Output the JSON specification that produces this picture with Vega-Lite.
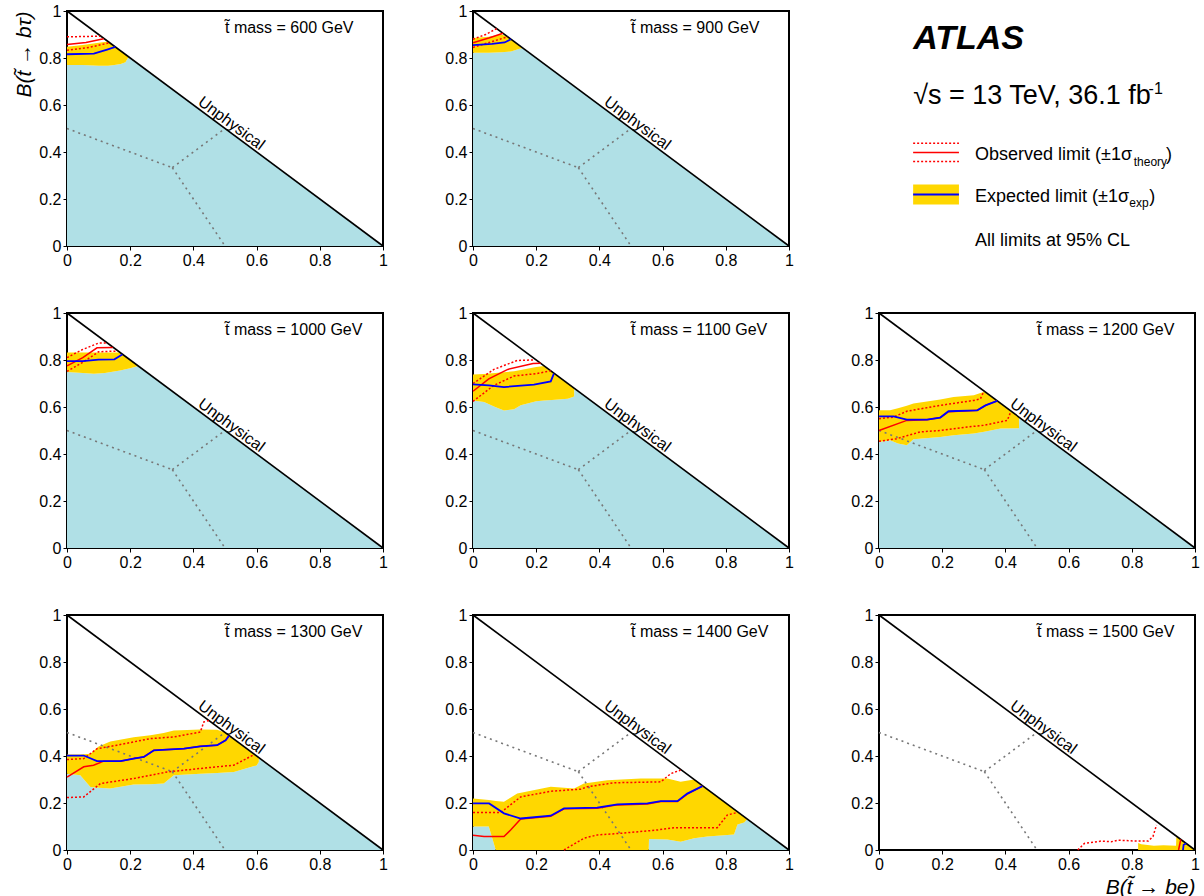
{
  "$schema": "https://vega.github.io/schema/vega-lite/v6.json",
  "padding": {"left": 12, "top": 2, "right": 4, "bottom": 4},
  "config": {
    "font": "Liberation Sans",
    "view": {"stroke": "black", "strokeWidth": 2},
    "axis": {"labelFontSize": 16, "labelColor": "black", "domain": false, "ticks": true, "tickColor": "black", "tickSize": 4, "labelPadding": 2, "grid": false, "labelFlush": false, "labelOverlap": false, "titleFontStyle": "italic", "titleFontWeight": "normal", "titleFontSize": 21, "titleColor": "black", "titleAnchor": "end", "titlePadding": 4},
    "text": {"fontSize": 16}
  },
  "datasets": {
    "geom": [
      {"k": "diag", "x": 0, "y": 1, "x2": 1, "y2": 0},
      {"k": "p", "x": 0, "y": 0.5, "x2": 0.3333, "y2": 0.3333},
      {"k": "p", "x": 0.3333, "y": 0.3333, "x2": 0.5, "y2": 0.5},
      {"k": "p", "x": 0.3333, "y": 0.3333, "x2": 0.5, "y2": 0}
    ],
    "d": [
      {"m":600,"s":"excl","x":0,"y":0.77},{"m":600,"s":"excl","x":0.05,"y":0.77},{"m":600,"s":"excl","x":0.1,"y":0.767},{"m":600,"s":"excl","x":0.13,"y":0.767},{"m":600,"s":"excl","x":0.15,"y":0.77},{"m":600,"s":"excl","x":0.17,"y":0.774},{"m":600,"s":"excl","x":0.185,"y":0.782},{"m":600,"s":"excl","x":0.195,"y":0.805},{"m":600,"s":"excl","x":1,"y":0},
      {"m":600,"s":"band","x":0,"y":0.77,"y2":0.848},{"m":600,"s":"band","x":0.05,"y":0.77,"y2":0.855},{"m":600,"s":"band","x":0.1,"y":0.767,"y2":0.865},{"m":600,"s":"band","x":0.13,"y":0.767,"y2":0.87},{"m":600,"s":"band","x":0.15,"y":0.77,"y2":0.85},{"m":600,"s":"band","x":0.17,"y":0.774,"y2":0.83},{"m":600,"s":"band","x":0.185,"y":0.782,"y2":0.815},{"m":600,"s":"band","x":0.195,"y":0.805,"y2":0.805},
      {"m":600,"s":"exp","x":0,"y":0.816},{"m":600,"s":"exp","x":0.085,"y":0.819},{"m":600,"s":"exp","x":0.127,"y":0.836},{"m":600,"s":"exp","x":0.153,"y":0.847},
      {"m":600,"s":"obs","x":0,"y":0.857},{"m":600,"s":"obs","x":0.06,"y":0.866},{"m":600,"s":"obs","x":0.116,"y":0.882},
      {"m":600,"s":"obsUp","x":0,"y":0.89},{"m":600,"s":"obsUp","x":0.105,"y":0.893},
      {"m":600,"s":"obsDn","x":0,"y":0.833},{"m":600,"s":"obsDn","x":0.07,"y":0.845},{"m":600,"s":"obsDn","x":0.135,"y":0.865},

      {"m":900,"s":"excl","x":0,"y":0.822},{"m":900,"s":"excl","x":0.05,"y":0.822},{"m":900,"s":"excl","x":0.09,"y":0.825},{"m":900,"s":"excl","x":0.12,"y":0.828},{"m":900,"s":"excl","x":0.15,"y":0.84},{"m":900,"s":"excl","x":0.158,"y":0.842},{"m":900,"s":"excl","x":1,"y":0},
      {"m":900,"s":"band","x":0,"y":0.822,"y2":0.885},{"m":900,"s":"band","x":0.05,"y":0.822,"y2":0.89},{"m":900,"s":"band","x":0.09,"y":0.825,"y2":0.9},{"m":900,"s":"band","x":0.11,"y":0.827,"y2":0.89},{"m":900,"s":"band","x":0.12,"y":0.828,"y2":0.88},{"m":900,"s":"band","x":0.15,"y":0.84,"y2":0.85},{"m":900,"s":"band","x":0.158,"y":0.842,"y2":0.842},
      {"m":900,"s":"exp","x":0,"y":0.855},{"m":900,"s":"exp","x":0.06,"y":0.86},{"m":900,"s":"exp","x":0.1,"y":0.866},{"m":900,"s":"exp","x":0.12,"y":0.88},
      {"m":900,"s":"obs","x":0,"y":0.865},{"m":900,"s":"obs","x":0.05,"y":0.885},{"m":900,"s":"obs","x":0.095,"y":0.905},
      {"m":900,"s":"obsUp","x":0,"y":0.88},{"m":900,"s":"obsUp","x":0.04,"y":0.9},{"m":900,"s":"obsUp","x":0.075,"y":0.925},
      {"m":900,"s":"obsDn","x":0,"y":0.845},{"m":900,"s":"obsDn","x":0.06,"y":0.87},{"m":900,"s":"obsDn","x":0.11,"y":0.89},

      {"m":1000,"s":"excl","x":0,"y":0.749},{"m":1000,"s":"excl","x":0.05,"y":0.745},{"m":1000,"s":"excl","x":0.085,"y":0.742},{"m":1000,"s":"excl","x":0.12,"y":0.745},{"m":1000,"s":"excl","x":0.168,"y":0.755},{"m":1000,"s":"excl","x":0.2,"y":0.765},{"m":1000,"s":"excl","x":0.225,"y":0.775},{"m":1000,"s":"excl","x":1,"y":0},
      {"m":1000,"s":"band","x":0,"y":0.749,"y2":0.832},{"m":1000,"s":"band","x":0.05,"y":0.745,"y2":0.832},{"m":1000,"s":"band","x":0.085,"y":0.742,"y2":0.832},{"m":1000,"s":"band","x":0.12,"y":0.745,"y2":0.832},{"m":1000,"s":"band","x":0.168,"y":0.755,"y2":0.832},{"m":1000,"s":"band","x":0.2,"y":0.765,"y2":0.8},{"m":1000,"s":"band","x":0.225,"y":0.775,"y2":0.775},
      {"m":1000,"s":"exp","x":0,"y":0.795},{"m":1000,"s":"exp","x":0.05,"y":0.795},{"m":1000,"s":"exp","x":0.1,"y":0.802},{"m":1000,"s":"exp","x":0.15,"y":0.803},{"m":1000,"s":"exp","x":0.175,"y":0.823},
      {"m":1000,"s":"obs","x":0,"y":0.775},{"m":1000,"s":"obs","x":0.05,"y":0.81},{"m":1000,"s":"obs","x":0.095,"y":0.852},{"m":1000,"s":"obs","x":0.145,"y":0.853},
      {"m":1000,"s":"obsUp","x":0,"y":0.81},{"m":1000,"s":"obsUp","x":0.05,"y":0.845},{"m":1000,"s":"obsUp","x":0.1,"y":0.872},{"m":1000,"s":"obsUp","x":0.128,"y":0.872},
      {"m":1000,"s":"obsDn","x":0,"y":0.752},{"m":1000,"s":"obsDn","x":0.05,"y":0.79},{"m":1000,"s":"obsDn","x":0.1,"y":0.835},{"m":1000,"s":"obsDn","x":0.16,"y":0.838},

      {"m":1100,"s":"excl","x":0,"y":0.628},{"m":1100,"s":"excl","x":0.035,"y":0.621},{"m":1100,"s":"excl","x":0.07,"y":0.6},{"m":1100,"s":"excl","x":0.098,"y":0.585},{"m":1100,"s":"excl","x":0.13,"y":0.59},{"m":1100,"s":"excl","x":0.151,"y":0.607},{"m":1100,"s":"excl","x":0.2,"y":0.625},{"m":1100,"s":"excl","x":0.225,"y":0.628},{"m":1100,"s":"excl","x":0.25,"y":0.63},{"m":1100,"s":"excl","x":0.3,"y":0.635},{"m":1100,"s":"excl","x":0.32,"y":0.645},{"m":1100,"s":"excl","x":0.321,"y":0.679},{"m":1100,"s":"excl","x":1,"y":0},
      {"m":1100,"s":"band","x":0,"y":0.628,"y2":0.738},{"m":1100,"s":"band","x":0.035,"y":0.621,"y2":0.74},{"m":1100,"s":"band","x":0.07,"y":0.6,"y2":0.745},{"m":1100,"s":"band","x":0.098,"y":0.585,"y2":0.748},{"m":1100,"s":"band","x":0.13,"y":0.59,"y2":0.752},{"m":1100,"s":"band","x":0.151,"y":0.607,"y2":0.757},{"m":1100,"s":"band","x":0.2,"y":0.625,"y2":0.77},{"m":1100,"s":"band","x":0.225,"y":0.628,"y2":0.775},{"m":1100,"s":"band","x":0.25,"y":0.63,"y2":0.75},{"m":1100,"s":"band","x":0.3,"y":0.635,"y2":0.7},{"m":1100,"s":"band","x":0.32,"y":0.645,"y2":0.68},
      {"m":1100,"s":"exp","x":0,"y":0.696},{"m":1100,"s":"exp","x":0.05,"y":0.692},{"m":1100,"s":"exp","x":0.098,"y":0.685},{"m":1100,"s":"exp","x":0.193,"y":0.695},{"m":1100,"s":"exp","x":0.246,"y":0.709},{"m":1100,"s":"exp","x":0.256,"y":0.742},
      {"m":1100,"s":"obs","x":0,"y":0.667},{"m":1100,"s":"obs","x":0.05,"y":0.72},{"m":1100,"s":"obs","x":0.11,"y":0.76},{"m":1100,"s":"obs","x":0.19,"y":0.785},{"m":1100,"s":"obs","x":0.214,"y":0.786},
      {"m":1100,"s":"obsUp","x":0,"y":0.7},{"m":1100,"s":"obsUp","x":0.066,"y":0.76},{"m":1100,"s":"obsUp","x":0.14,"y":0.798},{"m":1100,"s":"obsUp","x":0.19,"y":0.8},
      {"m":1100,"s":"obsDn","x":0,"y":0.624},{"m":1100,"s":"obsDn","x":0.066,"y":0.692},{"m":1100,"s":"obsDn","x":0.13,"y":0.732},{"m":1100,"s":"obsDn","x":0.2,"y":0.742},{"m":1100,"s":"obsDn","x":0.246,"y":0.754},

      {"m":1200,"s":"excl","x":0,"y":0.451},{"m":1200,"s":"excl","x":0.035,"y":0.458},{"m":1200,"s":"excl","x":0.06,"y":0.445},{"m":1200,"s":"excl","x":0.088,"y":0.437},{"m":1200,"s":"excl","x":0.109,"y":0.463},{"m":1200,"s":"excl","x":0.194,"y":0.472},{"m":1200,"s":"excl","x":0.236,"y":0.48},{"m":1200,"s":"excl","x":0.3,"y":0.487},{"m":1200,"s":"excl","x":0.333,"y":0.495},{"m":1200,"s":"excl","x":0.385,"y":0.508},{"m":1200,"s":"excl","x":0.443,"y":0.51},{"m":1200,"s":"excl","x":0.444,"y":0.556},{"m":1200,"s":"excl","x":1,"y":0},
      {"m":1200,"s":"band","x":0,"y":0.451,"y2":0.586},{"m":1200,"s":"band","x":0.035,"y":0.458,"y2":0.586},{"m":1200,"s":"band","x":0.06,"y":0.445,"y2":0.595},{"m":1200,"s":"band","x":0.088,"y":0.437,"y2":0.605},{"m":1200,"s":"band","x":0.109,"y":0.463,"y2":0.615},{"m":1200,"s":"band","x":0.194,"y":0.472,"y2":0.632},{"m":1200,"s":"band","x":0.236,"y":0.48,"y2":0.643},{"m":1200,"s":"band","x":0.3,"y":0.487,"y2":0.65},{"m":1200,"s":"band","x":0.333,"y":0.495,"y2":0.665},{"m":1200,"s":"band","x":0.385,"y":0.508,"y2":0.615},{"m":1200,"s":"band","x":0.443,"y":0.51,"y2":0.557},
      {"m":1200,"s":"exp","x":0,"y":0.56},{"m":1200,"s":"exp","x":0.046,"y":0.56},{"m":1200,"s":"exp","x":0.088,"y":0.546},{"m":1200,"s":"exp","x":0.152,"y":0.546},{"m":1200,"s":"exp","x":0.194,"y":0.555},{"m":1200,"s":"exp","x":0.22,"y":0.582},{"m":1200,"s":"exp","x":0.311,"y":0.586},{"m":1200,"s":"exp","x":0.337,"y":0.607},{"m":1200,"s":"exp","x":0.374,"y":0.626},
      {"m":1200,"s":"obs","x":0,"y":0.5},{"m":1200,"s":"obs","x":0.088,"y":0.543},{"m":1200,"s":"obs","x":0.152,"y":0.546},{"m":1200,"s":"obs","x":0.194,"y":0.555},{"m":1200,"s":"obs","x":0.22,"y":0.58},{"m":1200,"s":"obs","x":0.311,"y":0.586},{"m":1200,"s":"obs","x":0.337,"y":0.607},{"m":1200,"s":"obs","x":0.374,"y":0.626},
      {"m":1200,"s":"obsUp","x":0,"y":0.55},{"m":1200,"s":"obsUp","x":0.046,"y":0.557},{"m":1200,"s":"obsUp","x":0.088,"y":0.582},{"m":1200,"s":"obsUp","x":0.194,"y":0.607},{"m":1200,"s":"obsUp","x":0.3,"y":0.628},{"m":1200,"s":"obsUp","x":0.321,"y":0.635},{"m":1200,"s":"obsUp","x":0.332,"y":0.667},
      {"m":1200,"s":"obsDn","x":0,"y":0.454},{"m":1200,"s":"obsDn","x":0.056,"y":0.465},{"m":1200,"s":"obsDn","x":0.13,"y":0.494},{"m":1200,"s":"obsDn","x":0.194,"y":0.5},{"m":1200,"s":"obsDn","x":0.279,"y":0.515},{"m":1200,"s":"obsDn","x":0.332,"y":0.522},{"m":1200,"s":"obsDn","x":0.406,"y":0.543},{"m":1200,"s":"obsDn","x":0.417,"y":0.58},

      {"m":1300,"s":"excl","x":0,"y":0.325},{"m":1300,"s":"excl","x":0.042,"y":0.318},{"m":1300,"s":"excl","x":0.074,"y":0.268},{"m":1300,"s":"excl","x":0.1,"y":0.265},{"m":1300,"s":"excl","x":0.137,"y":0.262},{"m":1300,"s":"excl","x":0.211,"y":0.279},{"m":1300,"s":"excl","x":0.264,"y":0.28},{"m":1300,"s":"excl","x":0.306,"y":0.283},{"m":1300,"s":"excl","x":0.338,"y":0.318},{"m":1300,"s":"excl","x":0.422,"y":0.325},{"m":1300,"s":"excl","x":0.475,"y":0.328},{"m":1300,"s":"excl","x":0.5,"y":0.33},{"m":1300,"s":"excl","x":0.528,"y":0.332},{"m":1300,"s":"excl","x":0.6,"y":0.36},{"m":1300,"s":"excl","x":0.607,"y":0.375},{"m":1300,"s":"excl","x":0.608,"y":0.392},{"m":1300,"s":"excl","x":1,"y":0},
      {"m":1300,"s":"band","x":0,"y":0.325,"y2":0.406},{"m":1300,"s":"band","x":0.042,"y":0.318,"y2":0.406},{"m":1300,"s":"band","x":0.074,"y":0.268,"y2":0.41},{"m":1300,"s":"band","x":0.1,"y":0.265,"y2":0.44},{"m":1300,"s":"band","x":0.137,"y":0.262,"y2":0.462},{"m":1300,"s":"band","x":0.211,"y":0.279,"y2":0.48},{"m":1300,"s":"band","x":0.264,"y":0.28,"y2":0.488},{"m":1300,"s":"band","x":0.306,"y":0.283,"y2":0.498},{"m":1300,"s":"band","x":0.338,"y":0.318,"y2":0.509},{"m":1300,"s":"band","x":0.422,"y":0.325,"y2":0.513},{"m":1300,"s":"band","x":0.475,"y":0.328,"y2":0.512},{"m":1300,"s":"band","x":0.5,"y":0.33,"y2":0.5},{"m":1300,"s":"band","x":0.528,"y":0.332,"y2":0.472},{"m":1300,"s":"band","x":0.6,"y":0.36,"y2":0.4},{"m":1300,"s":"band","x":0.607,"y":0.375,"y2":0.393},
      {"m":1300,"s":"exp","x":0,"y":0.402},{"m":1300,"s":"exp","x":0.053,"y":0.402},{"m":1300,"s":"exp","x":0.095,"y":0.378},{"m":1300,"s":"exp","x":0.169,"y":0.378},{"m":1300,"s":"exp","x":0.211,"y":0.389},{"m":1300,"s":"exp","x":0.243,"y":0.396},{"m":1300,"s":"exp","x":0.275,"y":0.424},{"m":1300,"s":"exp","x":0.37,"y":0.431},{"m":1300,"s":"exp","x":0.422,"y":0.441},{"m":1300,"s":"exp","x":0.475,"y":0.446},{"m":1300,"s":"exp","x":0.502,"y":0.467},{"m":1300,"s":"exp","x":0.512,"y":0.485},
      {"m":1300,"s":"obs","x":0,"y":0.31},{"m":1300,"s":"obs","x":0.053,"y":0.354},{"m":1300,"s":"obs","x":0.084,"y":0.361},{"m":1300,"s":"obs","x":0.116,"y":0.378},{"m":1300,"s":"obs","x":0.169,"y":0.378},{"m":1300,"s":"obs","x":0.211,"y":0.389},{"m":1300,"s":"obs","x":0.243,"y":0.396},{"m":1300,"s":"obs","x":0.275,"y":0.424},{"m":1300,"s":"obs","x":0.37,"y":0.431},{"m":1300,"s":"obs","x":0.422,"y":0.441},{"m":1300,"s":"obs","x":0.475,"y":0.446},{"m":1300,"s":"obs","x":0.502,"y":0.467},{"m":1300,"s":"obs","x":0.512,"y":0.485},
      {"m":1300,"s":"obsUp","x":0,"y":0.385},{"m":1300,"s":"obsUp","x":0.053,"y":0.389},{"m":1300,"s":"obsUp","x":0.095,"y":0.431},{"m":1300,"s":"obsUp","x":0.158,"y":0.446},{"m":1300,"s":"obsUp","x":0.264,"y":0.474},{"m":1300,"s":"obsUp","x":0.338,"y":0.481},{"m":1300,"s":"obsUp","x":0.422,"y":0.502},{"m":1300,"s":"obsUp","x":0.433,"y":0.545},{"m":1300,"s":"obsUp","x":0.449,"y":0.551},
      {"m":1300,"s":"obsDn","x":0,"y":0.223},{"m":1300,"s":"obsDn","x":0.053,"y":0.226},{"m":1300,"s":"obsDn","x":0.106,"y":0.283},{"m":1300,"s":"obsDn","x":0.211,"y":0.304},{"m":1300,"s":"obsDn","x":0.317,"y":0.332},{"m":1300,"s":"obsDn","x":0.422,"y":0.347},{"m":1300,"s":"obsDn","x":0.528,"y":0.361},{"m":1300,"s":"obsDn","x":0.591,"y":0.405},

      {"m":1400,"s":"excl","x":0,"y":0.1},{"m":1400,"s":"excl","x":0.05,"y":0.1},{"m":1400,"s":"excl","x":0.072,"y":0},{"m":1400,"s":"excl","x":0.556,"y":0},{"m":1400,"s":"excl","x":0.557,"y":0.047},{"m":1400,"s":"excl","x":0.615,"y":0.045},{"m":1400,"s":"excl","x":0.657,"y":0.035},{"m":1400,"s":"excl","x":0.7,"y":0.05},{"m":1400,"s":"excl","x":0.742,"y":0.057},{"m":1400,"s":"excl","x":0.826,"y":0.066},{"m":1400,"s":"excl","x":0.837,"y":0.109},{"m":1400,"s":"excl","x":0.858,"y":0.117},{"m":1400,"s":"excl","x":0.868,"y":0.132},{"m":1400,"s":"excl","x":1,"y":0},
      {"m":1400,"s":"band","x":0,"y":0.1,"y2":0.219},{"m":1400,"s":"band","x":0.05,"y":0.1,"y2":0.213},{"m":1400,"s":"band","x":0.072,"y":0,"y2":0.208},{"m":1400,"s":"band","x":0.098,"y":0,"y2":0.205},{"m":1400,"s":"band","x":0.14,"y":0,"y2":0.24},{"m":1400,"s":"band","x":0.246,"y":0,"y2":0.269},{"m":1400,"s":"band","x":0.32,"y":0,"y2":0.262},{"m":1400,"s":"band","x":0.351,"y":0,"y2":0.283},{"m":1400,"s":"band","x":0.425,"y":0,"y2":0.297},{"m":1400,"s":"band","x":0.531,"y":0,"y2":0.304},{"m":1400,"s":"band","x":0.556,"y":0,"y2":0.304},{"m":1400,"s":"band","x":0.557,"y":0.047,"y2":0.304},{"m":1400,"s":"band","x":0.615,"y":0.045,"y2":0.304},{"m":1400,"s":"band","x":0.657,"y":0.035,"y2":0.29},{"m":1400,"s":"band","x":0.7,"y":0.05,"y2":0.3},{"m":1400,"s":"band","x":0.742,"y":0.057,"y2":0.258},{"m":1400,"s":"band","x":0.826,"y":0.066,"y2":0.174},{"m":1400,"s":"band","x":0.837,"y":0.109,"y2":0.163},{"m":1400,"s":"band","x":0.858,"y":0.117,"y2":0.142},{"m":1400,"s":"band","x":0.868,"y":0.132,"y2":0.132},
      {"m":1400,"s":"exp","x":0,"y":0.198},{"m":1400,"s":"exp","x":0.051,"y":0.198},{"m":1400,"s":"exp","x":0.098,"y":0.156},{"m":1400,"s":"exp","x":0.151,"y":0.134},{"m":1400,"s":"exp","x":0.246,"y":0.146},{"m":1400,"s":"exp","x":0.288,"y":0.177},{"m":1400,"s":"exp","x":0.393,"y":0.18},{"m":1400,"s":"exp","x":0.457,"y":0.194},{"m":1400,"s":"exp","x":0.552,"y":0.198},{"m":1400,"s":"exp","x":0.594,"y":0.208},{"m":1400,"s":"exp","x":0.647,"y":0.208},{"m":1400,"s":"exp","x":0.678,"y":0.24},{"m":1400,"s":"exp","x":0.726,"y":0.272},
      {"m":1400,"s":"obs","x":0,"y":0.063},{"m":1400,"s":"obs","x":0.035,"y":0.057},{"m":1400,"s":"obs","x":0.098,"y":0.057},{"m":1400,"s":"obs","x":0.119,"y":0.085},{"m":1400,"s":"obs","x":0.151,"y":0.132},{"m":1400,"s":"obs","x":0.246,"y":0.144},{"m":1400,"s":"obs","x":0.288,"y":0.175},{"m":1400,"s":"obs","x":0.393,"y":0.178},{"m":1400,"s":"obs","x":0.457,"y":0.192},{"m":1400,"s":"obs","x":0.552,"y":0.196},{"m":1400,"s":"obs","x":0.594,"y":0.206},{"m":1400,"s":"obs","x":0.647,"y":0.206},{"m":1400,"s":"obs","x":0.678,"y":0.238},{"m":1400,"s":"obs","x":0.726,"y":0.272},
      {"m":1400,"s":"obsUp","x":0,"y":0.16},{"m":1400,"s":"obsUp","x":0.088,"y":0.16},{"m":1400,"s":"obsUp","x":0.151,"y":0.226},{"m":1400,"s":"obsUp","x":0.246,"y":0.25},{"m":1400,"s":"obsUp","x":0.341,"y":0.259},{"m":1400,"s":"obsUp","x":0.362,"y":0.269},{"m":1400,"s":"obsUp","x":0.446,"y":0.286},{"m":1400,"s":"obsUp","x":0.594,"y":0.29},{"m":1400,"s":"obsUp","x":0.626,"y":0.325},{"m":1400,"s":"obsUp","x":0.657,"y":0.34},
      {"m":1400,"s":"obsDn","x":0.288,"y":0},{"m":1400,"s":"obsDn","x":0.351,"y":0.05},{"m":1400,"s":"obsDn","x":0.393,"y":0.064},{"m":1400,"s":"obsDn","x":0.467,"y":0.071},{"m":1400,"s":"obsDn","x":0.583,"y":0.085},{"m":1400,"s":"obsDn","x":0.636,"y":0.095},{"m":1400,"s":"obsDn","x":0.773,"y":0.095},{"m":1400,"s":"obsDn","x":0.805,"y":0.149},{"m":1400,"s":"obsDn","x":0.837,"y":0.16},

      {"m":1500,"s":"band","x":0.82,"y":0,"y2":0.03},{"m":1500,"s":"band","x":0.83,"y":0,"y2":0.025},{"m":1500,"s":"band","x":0.87,"y":0,"y2":0.018},{"m":1500,"s":"band","x":0.9,"y":0,"y2":0.02},{"m":1500,"s":"band","x":0.94,"y":0,"y2":0.018},{"m":1500,"s":"band","x":0.941,"y":0,"y2":0.055},{"m":1500,"s":"band","x":0.95,"y":0,"y2":0.05},{"m":1500,"s":"band","x":0.99,"y":0,"y2":0.01},{"m":1500,"s":"band","x":1,"y":0,"y2":0},
      {"m":1500,"s":"exp","x":0.962,"y":0},{"m":1500,"s":"exp","x":0.964,"y":0.022},{"m":1500,"s":"exp","x":0.972,"y":0.028},
      {"m":1500,"s":"obs","x":0.948,"y":0},{"m":1500,"s":"obs","x":0.955,"y":0.045},
      {"m":1500,"s":"obsUp","x":0.629,"y":0},{"m":1500,"s":"obsUp","x":0.65,"y":0.028},{"m":1500,"s":"obsUp","x":0.703,"y":0.038},{"m":1500,"s":"obsUp","x":0.735,"y":0.035},{"m":1500,"s":"obsUp","x":0.756,"y":0.042},{"m":1500,"s":"obsUp","x":0.809,"y":0.038},{"m":1500,"s":"obsUp","x":0.852,"y":0.038},{"m":1500,"s":"obsUp","x":0.867,"y":0.057},{"m":1500,"s":"obsUp","x":0.878,"y":0.106}
    ]
  },
  "columns": 3,
  "spacing": {"row": 67, "column": 90},
  "bounds": "flush",
  "concat": [
    {"width": 316, "height": 235,
     "layer": [
      {"data": {"name": "d"}, "transform": [{"filter": "datum.m == 600 && datum.s == 'excl'"}], "mark": {"type": "area", "color": "#b0e0e6"}, "encoding": {"x": {"field": "x", "type": "quantitative", "scale": {"domain": [0, 1], "nice": false}, "axis": {"values": [0, 0.2, 0.4, 0.6, 0.8, 1], "format": ".1~f"}, "title": null}, "y": {"field": "y", "type": "quantitative", "scale": {"domain": [0, 1], "nice": false}, "axis": {"values": [0, 0.2, 0.4, 0.6, 0.8, 1], "format": ".1~f"}, "title": "B(t\u0303 \u2192 b\u03c4)"}, "y2": {"datum": 0}}},
      {"data": {"name": "d"}, "transform": [{"filter": "datum.m == 600 && datum.s == 'band'"}], "mark": {"type": "area", "color": "#ffd700"}, "encoding": {"x": {"field": "x", "type": "quantitative", "title": null}, "y": {"field": "y", "type": "quantitative", "title": "B(t\u0303 \u2192 b\u03c4)"}, "y2": {"field": "y2"}}},
      {"data": {"name": "geom"}, "transform": [{"filter": "datum.k == 'p'"}], "mark": {"type": "rule", "color": "#777777", "strokeDash": [2, 4], "strokeWidth": 1.6}, "encoding": {"x": {"field": "x", "type": "quantitative", "title": null}, "y": {"field": "y", "type": "quantitative", "title": "B(t\u0303 \u2192 b\u03c4)"}, "x2": {"field": "x2"}, "y2": {"field": "y2"}}},
      {"data": {"name": "geom"}, "transform": [{"filter": "datum.k == 'diag'"}], "mark": {"type": "rule", "color": "black", "strokeWidth": 1.6}, "encoding": {"x": {"field": "x", "type": "quantitative", "title": null}, "y": {"field": "y", "type": "quantitative", "title": "B(t\u0303 \u2192 b\u03c4)"}, "x2": {"field": "x2"}, "y2": {"field": "y2"}}},
      {"data": {"name": "d"}, "transform": [{"filter": "datum.m == 600 && (datum.s == 'obsUp' || datum.s == 'obsDn')"}], "mark": {"type": "line", "color": "#ff0000", "strokeDash": [2, 2], "strokeWidth": 1.5}, "encoding": {"x": {"field": "x", "type": "quantitative", "title": null}, "y": {"field": "y", "type": "quantitative", "title": "B(t\u0303 \u2192 b\u03c4)"}, "detail": {"field": "s"}}},
      {"data": {"name": "d"}, "transform": [{"filter": "datum.m == 600 && datum.s == 'obs'"}], "mark": {"type": "line", "color": "#ff0000", "strokeWidth": 1.5}, "encoding": {"x": {"field": "x", "type": "quantitative", "title": null}, "y": {"field": "y", "type": "quantitative", "title": "B(t\u0303 \u2192 b\u03c4)"}}},
      {"data": {"name": "d"}, "transform": [{"filter": "datum.m == 600 && datum.s == 'exp'"}], "mark": {"type": "line", "color": "#0000ff", "strokeWidth": 1.8}, "encoding": {"x": {"field": "x", "type": "quantitative", "title": null}, "y": {"field": "y", "type": "quantitative", "title": "B(t\u0303 \u2192 b\u03c4)"}}},
      {"data": {"values": [{"t": "t\u0303 mass = 600 GeV"}]}, "mark": {"type": "text", "align": "left", "baseline": "alphabetic"}, "encoding": {"x": {"datum": 0.5, "type": "quantitative"}, "y": {"datum": 0.905, "type": "quantitative"}, "text": {"field": "t"}}},
      {"data": {"values": [{"t": "Unphysical"}]}, "mark": {"type": "text", "align": "center", "baseline": "middle", "angle": 36.6}, "encoding": {"x": {"datum": 0.52, "type": "quantitative"}, "y": {"datum": 0.522, "type": "quantitative"}, "text": {"field": "t"}}}
     ]},
    {"width": 316, "height": 235,
     "layer": [
      {"data": {"name": "d"}, "transform": [{"filter": "datum.m == 900 && datum.s == 'excl'"}], "mark": {"type": "area", "color": "#b0e0e6"}, "encoding": {"x": {"field": "x", "type": "quantitative", "scale": {"domain": [0, 1], "nice": false}, "axis": {"values": [0, 0.2, 0.4, 0.6, 0.8, 1], "format": ".1~f"}, "title": null}, "y": {"field": "y", "type": "quantitative", "scale": {"domain": [0, 1], "nice": false}, "axis": {"values": [0, 0.2, 0.4, 0.6, 0.8, 1], "format": ".1~f"}, "title": null}, "y2": {"datum": 0}}},
      {"data": {"name": "d"}, "transform": [{"filter": "datum.m == 900 && datum.s == 'band'"}], "mark": {"type": "area", "color": "#ffd700"}, "encoding": {"x": {"field": "x", "type": "quantitative", "title": null}, "y": {"field": "y", "type": "quantitative", "title": null}, "y2": {"field": "y2"}}},
      {"data": {"name": "geom"}, "transform": [{"filter": "datum.k == 'p'"}], "mark": {"type": "rule", "color": "#777777", "strokeDash": [2, 4], "strokeWidth": 1.6}, "encoding": {"x": {"field": "x", "type": "quantitative", "title": null}, "y": {"field": "y", "type": "quantitative", "title": null}, "x2": {"field": "x2"}, "y2": {"field": "y2"}}},
      {"data": {"name": "geom"}, "transform": [{"filter": "datum.k == 'diag'"}], "mark": {"type": "rule", "color": "black", "strokeWidth": 1.6}, "encoding": {"x": {"field": "x", "type": "quantitative", "title": null}, "y": {"field": "y", "type": "quantitative", "title": null}, "x2": {"field": "x2"}, "y2": {"field": "y2"}}},
      {"data": {"name": "d"}, "transform": [{"filter": "datum.m == 900 && (datum.s == 'obsUp' || datum.s == 'obsDn')"}], "mark": {"type": "line", "color": "#ff0000", "strokeDash": [2, 2], "strokeWidth": 1.5}, "encoding": {"x": {"field": "x", "type": "quantitative", "title": null}, "y": {"field": "y", "type": "quantitative", "title": null}, "detail": {"field": "s"}}},
      {"data": {"name": "d"}, "transform": [{"filter": "datum.m == 900 && datum.s == 'obs'"}], "mark": {"type": "line", "color": "#ff0000", "strokeWidth": 1.5}, "encoding": {"x": {"field": "x", "type": "quantitative", "title": null}, "y": {"field": "y", "type": "quantitative", "title": null}}},
      {"data": {"name": "d"}, "transform": [{"filter": "datum.m == 900 && datum.s == 'exp'"}], "mark": {"type": "line", "color": "#0000ff", "strokeWidth": 1.8}, "encoding": {"x": {"field": "x", "type": "quantitative", "title": null}, "y": {"field": "y", "type": "quantitative", "title": null}}},
      {"data": {"values": [{"t": "t\u0303 mass = 900 GeV"}]}, "mark": {"type": "text", "align": "left", "baseline": "alphabetic"}, "encoding": {"x": {"datum": 0.5, "type": "quantitative"}, "y": {"datum": 0.905, "type": "quantitative"}, "text": {"field": "t"}}},
      {"data": {"values": [{"t": "Unphysical"}]}, "mark": {"type": "text", "align": "center", "baseline": "middle", "angle": 36.6}, "encoding": {"x": {"datum": 0.52, "type": "quantitative"}, "y": {"datum": 0.522, "type": "quantitative"}, "text": {"field": "t"}}}
     ]},
    {"width": 316, "height": 235,
     "view": {"stroke": null},
     "data": {"values": [{}]},
     "layer": [
      {"mark": {"type": "rect", "color": "#ffd700"}, "encoding": {"x": {"datum": 0.108, "type": "quantitative", "scale": {"domain": [0, 1]}, "axis": null}, "x2": {"datum": 0.253}, "y": {"datum": 0.177, "type": "quantitative", "scale": {"domain": [0, 1]}, "axis": null}, "y2": {"datum": 0.262}}},
      {"mark": {"type": "rule", "color": "#0000ff", "strokeWidth": 2}, "encoding": {"x": {"datum": 0.108, "type": "quantitative", "scale": {"domain": [0, 1]}, "axis": null}, "x2": {"datum": 0.253}, "y": {"datum": 0.219, "type": "quantitative", "scale": {"domain": [0, 1]}, "axis": null}}},
      {"mark": {"type": "rule", "color": "#ff0000", "strokeWidth": 1.5}, "encoding": {"x": {"datum": 0.108, "type": "quantitative", "scale": {"domain": [0, 1]}, "axis": null}, "x2": {"datum": 0.253}, "y": {"datum": 0.398, "type": "quantitative", "scale": {"domain": [0, 1]}, "axis": null}}},
      {"mark": {"type": "rule", "color": "#ff0000", "strokeWidth": 1.5, "strokeDash": [2, 2]}, "encoding": {"x": {"datum": 0.108, "type": "quantitative", "scale": {"domain": [0, 1]}, "axis": null}, "x2": {"datum": 0.253}, "y": {"datum": 0.437, "type": "quantitative", "scale": {"domain": [0, 1]}, "axis": null}}},
      {"mark": {"type": "rule", "color": "#ff0000", "strokeWidth": 1.5, "strokeDash": [2, 2]}, "encoding": {"x": {"datum": 0.108, "type": "quantitative", "scale": {"domain": [0, 1]}, "axis": null}, "x2": {"datum": 0.253}, "y": {"datum": 0.36, "type": "quantitative", "scale": {"domain": [0, 1]}, "axis": null}}},
      {"mark": {"type": "text", "align": "left", "baseline": "alphabetic", "fontSize": 34, "fontWeight": "bold", "fontStyle": "italic"}, "encoding": {"x": {"datum": 0.108, "type": "quantitative", "scale": {"domain": [0, 1]}, "axis": null}, "y": {"datum": 0.837, "type": "quantitative", "scale": {"domain": [0, 1]}, "axis": null}, "text": {"value": "ATLAS"}}},
      {"mark": {"type": "text", "align": "left", "baseline": "alphabetic", "fontSize": 27}, "encoding": {"x": {"datum": 0.108, "type": "quantitative", "scale": {"domain": [0, 1]}, "axis": null}, "y": {"datum": 0.606, "type": "quantitative", "scale": {"domain": [0, 1]}, "axis": null}, "text": {"value": "\u221as = 13 TeV, 36.1 fb"}}},
      {"mark": {"type": "text", "align": "left", "baseline": "alphabetic", "fontSize": 16}, "encoding": {"x": {"datum": 0.853, "type": "quantitative", "scale": {"domain": [0, 1]}, "axis": null}, "y": {"datum": 0.645, "type": "quantitative", "scale": {"domain": [0, 1]}, "axis": null}, "text": {"value": "-1"}}},
      {"mark": {"type": "text", "align": "left", "baseline": "alphabetic", "fontSize": 18}, "encoding": {"x": {"datum": 0.304, "type": "quantitative", "scale": {"domain": [0, 1]}, "axis": null}, "y": {"datum": 0.364, "type": "quantitative", "scale": {"domain": [0, 1]}, "axis": null}, "text": {"value": "Observed limit (\u00b11\u03c3"}}},
      {"mark": {"type": "text", "align": "left", "baseline": "alphabetic", "fontSize": 12}, "encoding": {"x": {"datum": 0.806, "type": "quantitative", "scale": {"domain": [0, 1]}, "axis": null}, "y": {"datum": 0.341, "type": "quantitative", "scale": {"domain": [0, 1]}, "axis": null}, "text": {"value": "theory"}}},
      {"mark": {"type": "text", "align": "left", "baseline": "alphabetic", "fontSize": 18}, "encoding": {"x": {"datum": 0.908, "type": "quantitative", "scale": {"domain": [0, 1]}, "axis": null}, "y": {"datum": 0.364, "type": "quantitative", "scale": {"domain": [0, 1]}, "axis": null}, "text": {"value": ")"}}},
      {"mark": {"type": "text", "align": "left", "baseline": "alphabetic", "fontSize": 18}, "encoding": {"x": {"datum": 0.304, "type": "quantitative", "scale": {"domain": [0, 1]}, "axis": null}, "y": {"datum": 0.189, "type": "quantitative", "scale": {"domain": [0, 1]}, "axis": null}, "text": {"value": "Expected limit (\u00b11\u03c3"}}},
      {"mark": {"type": "text", "align": "left", "baseline": "alphabetic", "fontSize": 12}, "encoding": {"x": {"datum": 0.792, "type": "quantitative", "scale": {"domain": [0, 1]}, "axis": null}, "y": {"datum": 0.168, "type": "quantitative", "scale": {"domain": [0, 1]}, "axis": null}, "text": {"value": "exp"}}},
      {"mark": {"type": "text", "align": "left", "baseline": "alphabetic", "fontSize": 18}, "encoding": {"x": {"datum": 0.855, "type": "quantitative", "scale": {"domain": [0, 1]}, "axis": null}, "y": {"datum": 0.189, "type": "quantitative", "scale": {"domain": [0, 1]}, "axis": null}, "text": {"value": ")"}}},
      {"mark": {"type": "text", "align": "left", "baseline": "alphabetic", "fontSize": 18}, "encoding": {"x": {"datum": 0.304, "type": "quantitative", "scale": {"domain": [0, 1]}, "axis": null}, "y": {"datum": 0.0, "type": "quantitative", "scale": {"domain": [0, 1]}, "axis": null}, "text": {"value": "All limits at 95% CL"}}}
     ]},
    {"width": 316, "height": 235,
     "layer": [
      {"data": {"name": "d"}, "transform": [{"filter": "datum.m == 1000 && datum.s == 'excl'"}], "mark": {"type": "area", "color": "#b0e0e6"}, "encoding": {"x": {"field": "x", "type": "quantitative", "scale": {"domain": [0, 1], "nice": false}, "axis": {"values": [0, 0.2, 0.4, 0.6, 0.8, 1], "format": ".1~f"}, "title": null}, "y": {"field": "y", "type": "quantitative", "scale": {"domain": [0, 1], "nice": false}, "axis": {"values": [0, 0.2, 0.4, 0.6, 0.8, 1], "format": ".1~f"}, "title": null}, "y2": {"datum": 0}}},
      {"data": {"name": "d"}, "transform": [{"filter": "datum.m == 1000 && datum.s == 'band'"}], "mark": {"type": "area", "color": "#ffd700"}, "encoding": {"x": {"field": "x", "type": "quantitative", "title": null}, "y": {"field": "y", "type": "quantitative", "title": null}, "y2": {"field": "y2"}}},
      {"data": {"name": "geom"}, "transform": [{"filter": "datum.k == 'p'"}], "mark": {"type": "rule", "color": "#777777", "strokeDash": [2, 4], "strokeWidth": 1.6}, "encoding": {"x": {"field": "x", "type": "quantitative", "title": null}, "y": {"field": "y", "type": "quantitative", "title": null}, "x2": {"field": "x2"}, "y2": {"field": "y2"}}},
      {"data": {"name": "geom"}, "transform": [{"filter": "datum.k == 'diag'"}], "mark": {"type": "rule", "color": "black", "strokeWidth": 1.6}, "encoding": {"x": {"field": "x", "type": "quantitative", "title": null}, "y": {"field": "y", "type": "quantitative", "title": null}, "x2": {"field": "x2"}, "y2": {"field": "y2"}}},
      {"data": {"name": "d"}, "transform": [{"filter": "datum.m == 1000 && (datum.s == 'obsUp' || datum.s == 'obsDn')"}], "mark": {"type": "line", "color": "#ff0000", "strokeDash": [2, 2], "strokeWidth": 1.5}, "encoding": {"x": {"field": "x", "type": "quantitative", "title": null}, "y": {"field": "y", "type": "quantitative", "title": null}, "detail": {"field": "s"}}},
      {"data": {"name": "d"}, "transform": [{"filter": "datum.m == 1000 && datum.s == 'obs'"}], "mark": {"type": "line", "color": "#ff0000", "strokeWidth": 1.5}, "encoding": {"x": {"field": "x", "type": "quantitative", "title": null}, "y": {"field": "y", "type": "quantitative", "title": null}}},
      {"data": {"name": "d"}, "transform": [{"filter": "datum.m == 1000 && datum.s == 'exp'"}], "mark": {"type": "line", "color": "#0000ff", "strokeWidth": 1.8}, "encoding": {"x": {"field": "x", "type": "quantitative", "title": null}, "y": {"field": "y", "type": "quantitative", "title": null}}},
      {"data": {"values": [{"t": "t\u0303 mass = 1000 GeV"}]}, "mark": {"type": "text", "align": "left", "baseline": "alphabetic"}, "encoding": {"x": {"datum": 0.5, "type": "quantitative"}, "y": {"datum": 0.905, "type": "quantitative"}, "text": {"field": "t"}}},
      {"data": {"values": [{"t": "Unphysical"}]}, "mark": {"type": "text", "align": "center", "baseline": "middle", "angle": 36.6}, "encoding": {"x": {"datum": 0.52, "type": "quantitative"}, "y": {"datum": 0.522, "type": "quantitative"}, "text": {"field": "t"}}}
     ]},
    {"width": 316, "height": 235,
     "layer": [
      {"data": {"name": "d"}, "transform": [{"filter": "datum.m == 1100 && datum.s == 'excl'"}], "mark": {"type": "area", "color": "#b0e0e6"}, "encoding": {"x": {"field": "x", "type": "quantitative", "scale": {"domain": [0, 1], "nice": false}, "axis": {"values": [0, 0.2, 0.4, 0.6, 0.8, 1], "format": ".1~f"}, "title": null}, "y": {"field": "y", "type": "quantitative", "scale": {"domain": [0, 1], "nice": false}, "axis": {"values": [0, 0.2, 0.4, 0.6, 0.8, 1], "format": ".1~f"}, "title": null}, "y2": {"datum": 0}}},
      {"data": {"name": "d"}, "transform": [{"filter": "datum.m == 1100 && datum.s == 'band'"}], "mark": {"type": "area", "color": "#ffd700"}, "encoding": {"x": {"field": "x", "type": "quantitative", "title": null}, "y": {"field": "y", "type": "quantitative", "title": null}, "y2": {"field": "y2"}}},
      {"data": {"name": "geom"}, "transform": [{"filter": "datum.k == 'p'"}], "mark": {"type": "rule", "color": "#777777", "strokeDash": [2, 4], "strokeWidth": 1.6}, "encoding": {"x": {"field": "x", "type": "quantitative", "title": null}, "y": {"field": "y", "type": "quantitative", "title": null}, "x2": {"field": "x2"}, "y2": {"field": "y2"}}},
      {"data": {"name": "geom"}, "transform": [{"filter": "datum.k == 'diag'"}], "mark": {"type": "rule", "color": "black", "strokeWidth": 1.6}, "encoding": {"x": {"field": "x", "type": "quantitative", "title": null}, "y": {"field": "y", "type": "quantitative", "title": null}, "x2": {"field": "x2"}, "y2": {"field": "y2"}}},
      {"data": {"name": "d"}, "transform": [{"filter": "datum.m == 1100 && (datum.s == 'obsUp' || datum.s == 'obsDn')"}], "mark": {"type": "line", "color": "#ff0000", "strokeDash": [2, 2], "strokeWidth": 1.5}, "encoding": {"x": {"field": "x", "type": "quantitative", "title": null}, "y": {"field": "y", "type": "quantitative", "title": null}, "detail": {"field": "s"}}},
      {"data": {"name": "d"}, "transform": [{"filter": "datum.m == 1100 && datum.s == 'obs'"}], "mark": {"type": "line", "color": "#ff0000", "strokeWidth": 1.5}, "encoding": {"x": {"field": "x", "type": "quantitative", "title": null}, "y": {"field": "y", "type": "quantitative", "title": null}}},
      {"data": {"name": "d"}, "transform": [{"filter": "datum.m == 1100 && datum.s == 'exp'"}], "mark": {"type": "line", "color": "#0000ff", "strokeWidth": 1.8}, "encoding": {"x": {"field": "x", "type": "quantitative", "title": null}, "y": {"field": "y", "type": "quantitative", "title": null}}},
      {"data": {"values": [{"t": "t\u0303 mass = 1100 GeV"}]}, "mark": {"type": "text", "align": "left", "baseline": "alphabetic"}, "encoding": {"x": {"datum": 0.5, "type": "quantitative"}, "y": {"datum": 0.905, "type": "quantitative"}, "text": {"field": "t"}}},
      {"data": {"values": [{"t": "Unphysical"}]}, "mark": {"type": "text", "align": "center", "baseline": "middle", "angle": 36.6}, "encoding": {"x": {"datum": 0.52, "type": "quantitative"}, "y": {"datum": 0.522, "type": "quantitative"}, "text": {"field": "t"}}}
     ]},
    {"width": 316, "height": 235,
     "layer": [
      {"data": {"name": "d"}, "transform": [{"filter": "datum.m == 1200 && datum.s == 'excl'"}], "mark": {"type": "area", "color": "#b0e0e6"}, "encoding": {"x": {"field": "x", "type": "quantitative", "scale": {"domain": [0, 1], "nice": false}, "axis": {"values": [0, 0.2, 0.4, 0.6, 0.8, 1], "format": ".1~f"}, "title": null}, "y": {"field": "y", "type": "quantitative", "scale": {"domain": [0, 1], "nice": false}, "axis": {"values": [0, 0.2, 0.4, 0.6, 0.8, 1], "format": ".1~f"}, "title": null}, "y2": {"datum": 0}}},
      {"data": {"name": "d"}, "transform": [{"filter": "datum.m == 1200 && datum.s == 'band'"}], "mark": {"type": "area", "color": "#ffd700"}, "encoding": {"x": {"field": "x", "type": "quantitative", "title": null}, "y": {"field": "y", "type": "quantitative", "title": null}, "y2": {"field": "y2"}}},
      {"data": {"name": "geom"}, "transform": [{"filter": "datum.k == 'p'"}], "mark": {"type": "rule", "color": "#777777", "strokeDash": [2, 4], "strokeWidth": 1.6}, "encoding": {"x": {"field": "x", "type": "quantitative", "title": null}, "y": {"field": "y", "type": "quantitative", "title": null}, "x2": {"field": "x2"}, "y2": {"field": "y2"}}},
      {"data": {"name": "geom"}, "transform": [{"filter": "datum.k == 'diag'"}], "mark": {"type": "rule", "color": "black", "strokeWidth": 1.6}, "encoding": {"x": {"field": "x", "type": "quantitative", "title": null}, "y": {"field": "y", "type": "quantitative", "title": null}, "x2": {"field": "x2"}, "y2": {"field": "y2"}}},
      {"data": {"name": "d"}, "transform": [{"filter": "datum.m == 1200 && (datum.s == 'obsUp' || datum.s == 'obsDn')"}], "mark": {"type": "line", "color": "#ff0000", "strokeDash": [2, 2], "strokeWidth": 1.5}, "encoding": {"x": {"field": "x", "type": "quantitative", "title": null}, "y": {"field": "y", "type": "quantitative", "title": null}, "detail": {"field": "s"}}},
      {"data": {"name": "d"}, "transform": [{"filter": "datum.m == 1200 && datum.s == 'obs'"}], "mark": {"type": "line", "color": "#ff0000", "strokeWidth": 1.5}, "encoding": {"x": {"field": "x", "type": "quantitative", "title": null}, "y": {"field": "y", "type": "quantitative", "title": null}}},
      {"data": {"name": "d"}, "transform": [{"filter": "datum.m == 1200 && datum.s == 'exp'"}], "mark": {"type": "line", "color": "#0000ff", "strokeWidth": 1.8}, "encoding": {"x": {"field": "x", "type": "quantitative", "title": null}, "y": {"field": "y", "type": "quantitative", "title": null}}},
      {"data": {"values": [{"t": "t\u0303 mass = 1200 GeV"}]}, "mark": {"type": "text", "align": "left", "baseline": "alphabetic"}, "encoding": {"x": {"datum": 0.5, "type": "quantitative"}, "y": {"datum": 0.905, "type": "quantitative"}, "text": {"field": "t"}}},
      {"data": {"values": [{"t": "Unphysical"}]}, "mark": {"type": "text", "align": "center", "baseline": "middle", "angle": 36.6}, "encoding": {"x": {"datum": 0.52, "type": "quantitative"}, "y": {"datum": 0.522, "type": "quantitative"}, "text": {"field": "t"}}}
     ]},
    {"width": 316, "height": 235,
     "layer": [
      {"data": {"name": "d"}, "transform": [{"filter": "datum.m == 1300 && datum.s == 'excl'"}], "mark": {"type": "area", "color": "#b0e0e6"}, "encoding": {"x": {"field": "x", "type": "quantitative", "scale": {"domain": [0, 1], "nice": false}, "axis": {"values": [0, 0.2, 0.4, 0.6, 0.8, 1], "format": ".1~f"}, "title": null}, "y": {"field": "y", "type": "quantitative", "scale": {"domain": [0, 1], "nice": false}, "axis": {"values": [0, 0.2, 0.4, 0.6, 0.8, 1], "format": ".1~f"}, "title": null}, "y2": {"datum": 0}}},
      {"data": {"name": "d"}, "transform": [{"filter": "datum.m == 1300 && datum.s == 'band'"}], "mark": {"type": "area", "color": "#ffd700"}, "encoding": {"x": {"field": "x", "type": "quantitative", "title": null}, "y": {"field": "y", "type": "quantitative", "title": null}, "y2": {"field": "y2"}}},
      {"data": {"name": "geom"}, "transform": [{"filter": "datum.k == 'p'"}], "mark": {"type": "rule", "color": "#777777", "strokeDash": [2, 4], "strokeWidth": 1.6}, "encoding": {"x": {"field": "x", "type": "quantitative", "title": null}, "y": {"field": "y", "type": "quantitative", "title": null}, "x2": {"field": "x2"}, "y2": {"field": "y2"}}},
      {"data": {"name": "geom"}, "transform": [{"filter": "datum.k == 'diag'"}], "mark": {"type": "rule", "color": "black", "strokeWidth": 1.6}, "encoding": {"x": {"field": "x", "type": "quantitative", "title": null}, "y": {"field": "y", "type": "quantitative", "title": null}, "x2": {"field": "x2"}, "y2": {"field": "y2"}}},
      {"data": {"name": "d"}, "transform": [{"filter": "datum.m == 1300 && (datum.s == 'obsUp' || datum.s == 'obsDn')"}], "mark": {"type": "line", "color": "#ff0000", "strokeDash": [2, 2], "strokeWidth": 1.5}, "encoding": {"x": {"field": "x", "type": "quantitative", "title": null}, "y": {"field": "y", "type": "quantitative", "title": null}, "detail": {"field": "s"}}},
      {"data": {"name": "d"}, "transform": [{"filter": "datum.m == 1300 && datum.s == 'obs'"}], "mark": {"type": "line", "color": "#ff0000", "strokeWidth": 1.5}, "encoding": {"x": {"field": "x", "type": "quantitative", "title": null}, "y": {"field": "y", "type": "quantitative", "title": null}}},
      {"data": {"name": "d"}, "transform": [{"filter": "datum.m == 1300 && datum.s == 'exp'"}], "mark": {"type": "line", "color": "#0000ff", "strokeWidth": 1.8}, "encoding": {"x": {"field": "x", "type": "quantitative", "title": null}, "y": {"field": "y", "type": "quantitative", "title": null}}},
      {"data": {"values": [{"t": "t\u0303 mass = 1300 GeV"}]}, "mark": {"type": "text", "align": "left", "baseline": "alphabetic"}, "encoding": {"x": {"datum": 0.5, "type": "quantitative"}, "y": {"datum": 0.905, "type": "quantitative"}, "text": {"field": "t"}}},
      {"data": {"values": [{"t": "Unphysical"}]}, "mark": {"type": "text", "align": "center", "baseline": "middle", "angle": 36.6}, "encoding": {"x": {"datum": 0.52, "type": "quantitative"}, "y": {"datum": 0.522, "type": "quantitative"}, "text": {"field": "t"}}}
     ]},
    {"width": 316, "height": 235,
     "layer": [
      {"data": {"name": "d"}, "transform": [{"filter": "datum.m == 1400 && datum.s == 'excl'"}], "mark": {"type": "area", "color": "#b0e0e6"}, "encoding": {"x": {"field": "x", "type": "quantitative", "scale": {"domain": [0, 1], "nice": false}, "axis": {"values": [0, 0.2, 0.4, 0.6, 0.8, 1], "format": ".1~f"}, "title": null}, "y": {"field": "y", "type": "quantitative", "scale": {"domain": [0, 1], "nice": false}, "axis": {"values": [0, 0.2, 0.4, 0.6, 0.8, 1], "format": ".1~f"}, "title": null}, "y2": {"datum": 0}}},
      {"data": {"name": "d"}, "transform": [{"filter": "datum.m == 1400 && datum.s == 'band'"}], "mark": {"type": "area", "color": "#ffd700"}, "encoding": {"x": {"field": "x", "type": "quantitative", "title": null}, "y": {"field": "y", "type": "quantitative", "title": null}, "y2": {"field": "y2"}}},
      {"data": {"name": "geom"}, "transform": [{"filter": "datum.k == 'p'"}], "mark": {"type": "rule", "color": "#777777", "strokeDash": [2, 4], "strokeWidth": 1.6}, "encoding": {"x": {"field": "x", "type": "quantitative", "title": null}, "y": {"field": "y", "type": "quantitative", "title": null}, "x2": {"field": "x2"}, "y2": {"field": "y2"}}},
      {"data": {"name": "geom"}, "transform": [{"filter": "datum.k == 'diag'"}], "mark": {"type": "rule", "color": "black", "strokeWidth": 1.6}, "encoding": {"x": {"field": "x", "type": "quantitative", "title": null}, "y": {"field": "y", "type": "quantitative", "title": null}, "x2": {"field": "x2"}, "y2": {"field": "y2"}}},
      {"data": {"name": "d"}, "transform": [{"filter": "datum.m == 1400 && (datum.s == 'obsUp' || datum.s == 'obsDn')"}], "mark": {"type": "line", "color": "#ff0000", "strokeDash": [2, 2], "strokeWidth": 1.5}, "encoding": {"x": {"field": "x", "type": "quantitative", "title": null}, "y": {"field": "y", "type": "quantitative", "title": null}, "detail": {"field": "s"}}},
      {"data": {"name": "d"}, "transform": [{"filter": "datum.m == 1400 && datum.s == 'obs'"}], "mark": {"type": "line", "color": "#ff0000", "strokeWidth": 1.5}, "encoding": {"x": {"field": "x", "type": "quantitative", "title": null}, "y": {"field": "y", "type": "quantitative", "title": null}}},
      {"data": {"name": "d"}, "transform": [{"filter": "datum.m == 1400 && datum.s == 'exp'"}], "mark": {"type": "line", "color": "#0000ff", "strokeWidth": 1.8}, "encoding": {"x": {"field": "x", "type": "quantitative", "title": null}, "y": {"field": "y", "type": "quantitative", "title": null}}},
      {"data": {"values": [{"t": "t\u0303 mass = 1400 GeV"}]}, "mark": {"type": "text", "align": "left", "baseline": "alphabetic"}, "encoding": {"x": {"datum": 0.5, "type": "quantitative"}, "y": {"datum": 0.905, "type": "quantitative"}, "text": {"field": "t"}}},
      {"data": {"values": [{"t": "Unphysical"}]}, "mark": {"type": "text", "align": "center", "baseline": "middle", "angle": 36.6}, "encoding": {"x": {"datum": 0.52, "type": "quantitative"}, "y": {"datum": 0.522, "type": "quantitative"}, "text": {"field": "t"}}}
     ]},
    {"width": 316, "height": 235,
     "layer": [
      {"data": {"name": "d"}, "transform": [{"filter": "datum.m == 1500 && datum.s == 'band'"}], "mark": {"type": "area", "color": "#ffd700"}, "encoding": {"x": {"field": "x", "type": "quantitative", "scale": {"domain": [0, 1], "nice": false}, "axis": {"values": [0, 0.2, 0.4, 0.6, 0.8, 1], "format": ".1~f"}, "title": "B(t\u0303 \u2192 be)"}, "y": {"field": "y", "type": "quantitative", "scale": {"domain": [0, 1], "nice": false}, "axis": {"values": [0, 0.2, 0.4, 0.6, 0.8, 1], "format": ".1~f"}, "title": null}, "y2": {"field": "y2"}}},
      {"data": {"name": "geom"}, "transform": [{"filter": "datum.k == 'p'"}], "mark": {"type": "rule", "color": "#777777", "strokeDash": [2, 4], "strokeWidth": 1.6}, "encoding": {"x": {"field": "x", "type": "quantitative", "title": "B(t\u0303 \u2192 be)"}, "y": {"field": "y", "type": "quantitative", "title": null}, "x2": {"field": "x2"}, "y2": {"field": "y2"}}},
      {"data": {"name": "geom"}, "transform": [{"filter": "datum.k == 'diag'"}], "mark": {"type": "rule", "color": "black", "strokeWidth": 1.6}, "encoding": {"x": {"field": "x", "type": "quantitative", "title": "B(t\u0303 \u2192 be)"}, "y": {"field": "y", "type": "quantitative", "title": null}, "x2": {"field": "x2"}, "y2": {"field": "y2"}}},
      {"data": {"name": "d"}, "transform": [{"filter": "datum.m == 1500 && (datum.s == 'obsUp' || datum.s == 'obsDn')"}], "mark": {"type": "line", "color": "#ff0000", "strokeDash": [2, 2], "strokeWidth": 1.5}, "encoding": {"x": {"field": "x", "type": "quantitative", "title": "B(t\u0303 \u2192 be)"}, "y": {"field": "y", "type": "quantitative", "title": null}, "detail": {"field": "s"}}},
      {"data": {"name": "d"}, "transform": [{"filter": "datum.m == 1500 && datum.s == 'obs'"}], "mark": {"type": "line", "color": "#ff0000", "strokeWidth": 1.5}, "encoding": {"x": {"field": "x", "type": "quantitative", "title": "B(t\u0303 \u2192 be)"}, "y": {"field": "y", "type": "quantitative", "title": null}}},
      {"data": {"name": "d"}, "transform": [{"filter": "datum.m == 1500 && datum.s == 'exp'"}], "mark": {"type": "line", "color": "#0000ff", "strokeWidth": 1.8}, "encoding": {"x": {"field": "x", "type": "quantitative", "title": "B(t\u0303 \u2192 be)"}, "y": {"field": "y", "type": "quantitative", "title": null}}},
      {"data": {"values": [{"t": "t\u0303 mass = 1500 GeV"}]}, "mark": {"type": "text", "align": "left", "baseline": "alphabetic"}, "encoding": {"x": {"datum": 0.5, "type": "quantitative"}, "y": {"datum": 0.905, "type": "quantitative"}, "text": {"field": "t"}}},
      {"data": {"values": [{"t": "Unphysical"}]}, "mark": {"type": "text", "align": "center", "baseline": "middle", "angle": 36.6}, "encoding": {"x": {"datum": 0.52, "type": "quantitative"}, "y": {"datum": 0.522, "type": "quantitative"}, "text": {"field": "t"}}}
     ]}
  ]
}
